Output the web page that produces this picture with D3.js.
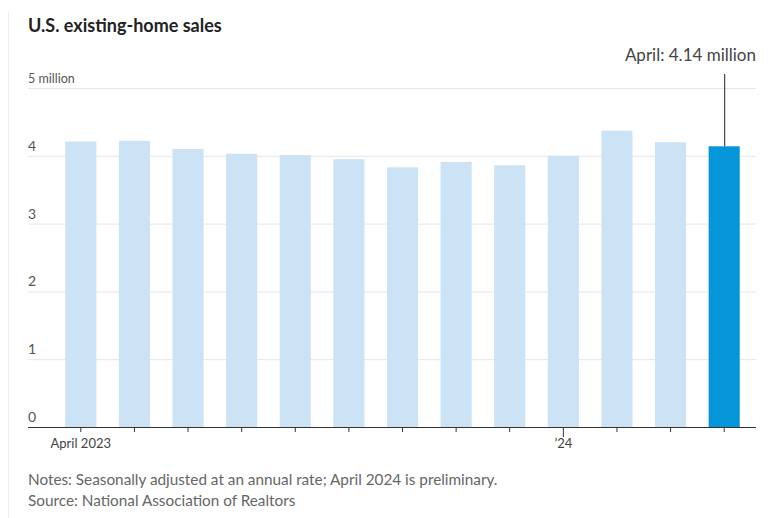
<!DOCTYPE html>
<html>
<head>
<meta charset="utf-8">
<title>U.S. existing-home sales</title>
<script src="https://cdn.jsdelivr.net/npm/d3@7"></script>
<style>
  body { margin: 0; background: #fff; font-family: Lato, "Noto Sans", sans-serif; }
  svg { display: block; }
</style>
</head>
<body>
<svg width="771" height="518"></svg>
<script>
// monthly sales, seasonally adjusted annual rate, millions
var months = ["2023-04", "2023-05", "2023-06", "2023-07", "2023-08", "2023-09",
              "2023-10", "2023-11", "2023-12", "2024-01", "2024-02", "2024-03", "2024-04"];
var sales = [4.21, 4.22, 4.10, 4.03, 4.01, 3.95, 3.83, 3.91, 3.86, 4.00, 4.37, 4.20, 4.14];
var yTicks = [0, 1, 2, 3, 4, 5];
var xLabels = {"2023-04": "April 2023", "2024-01": "\u201924"};

var svg = d3.select("svg");
var plotLeft = 28, plotRight = 756, plotTop = 88, plotBottom = 427;

var x = d3.scaleBand()
    .domain(months)
    .range([54, 751])
    .paddingInner(0.42)
    .paddingOuter(0.21);
var y = d3.scaleLinear().domain([0, 5]).range([plotBottom, plotTop]);

// faint frame line on the left
svg.append("line")
    .attr("x1", 8.5).attr("x2", 8.5).attr("y1", 12).attr("y2", 518)
    .attr("stroke", "#ececec");

svg.append("text")
    .attr("x", plotLeft).attr("y", 32)
    .attr("font-size", 18).attr("font-weight", 700).attr("fill", "#222")
    .text("U.S. existing-home sales");

// gridlines + labels
var grid = svg.append("g");
grid.selectAll("line")
    .data(yTicks.filter(function(d){ return d > 0; }))
  .enter().append("line")
    .attr("x1", plotLeft).attr("x2", plotRight)
    .attr("y1", function(d){ return y(d) + 0.5; })
    .attr("y2", function(d){ return y(d) + 0.5; })
    .attr("stroke", "#e6e6e6");
grid.selectAll("text")
    .data(yTicks)
  .enter().append("text")
    .attr("x", plotLeft)
    .attr("y", function(d){ return y(d) - 5; })
    .attr("font-size", function(d){ return d == 5 ? 12.5 : 14; })
    .attr("fill", "#555")
    .text(function(d){ return d == 5 ? "5 million" : d; });

// bars
svg.selectAll("rect")
    .data(months)
  .enter().append("rect")
    .attr("x", function(d){ return x(d); })
    .attr("width", x.bandwidth())
    .attr("y", function(d, i){ return y(sales[i]); })
    .attr("height", function(d, i){ return plotBottom - y(sales[i]); })
    .attr("fill", function(d, i){ return i == months.length - 1 ? "#0596da" : "#cce2f5"; });

// axis
svg.append("line")
    .attr("x1", plotLeft).attr("x2", plotRight)
    .attr("y1", plotBottom + 0.5).attr("y2", plotBottom + 0.5)
    .attr("stroke", "#333").attr("stroke-width", 1.2);
svg.selectAll(".tick")
    .data(months)
  .enter().append("line")
    .attr("class", "tick")
    .attr("x1", function(d){ return x(d) + x.bandwidth() / 2; })
    .attr("x2", function(d){ return x(d) + x.bandwidth() / 2; })
    .attr("y1", plotBottom)
    .attr("y2", function(d){ return d == "2024-01" ? plotBottom + 10 : plotBottom + 5; })
    .attr("stroke", "#333");
svg.selectAll(".xlab")
    .data(Object.keys(xLabels))
  .enter().append("text")
    .attr("class", "xlab")
    .attr("x", function(d){ return x(d) + x.bandwidth() / 2; })
    .attr("y", 448)
    .attr("text-anchor", "middle")
    .attr("font-size", 13).attr("fill", "#444")
    .text(function(d){ return xLabels[d]; });

// annotation for latest month
var last = months[months.length - 1];
var cx = x(last) + x.bandwidth() / 2;
svg.append("line")
    .attr("x1", cx + 0.5).attr("x2", cx + 0.5)
    .attr("y1", 74).attr("y2", y(sales[sales.length - 1]))
    .attr("stroke", "#222");
svg.append("text")
    .attr("x", plotRight).attr("y", 61)
    .attr("text-anchor", "end")
    .attr("font-size", 17).attr("fill", "#444")
    .text("April: " + sales[sales.length - 1] + " million");

svg.append("text")
    .attr("x", plotLeft).attr("y", 485)
    .attr("font-size", 15.3).attr("fill", "#666")
    .text("Notes: Seasonally adjusted at an annual rate; April 2024 is preliminary.");
svg.append("text")
    .attr("x", plotLeft).attr("y", 506)
    .attr("font-size", 15.3).attr("fill", "#666")
    .text("Source: National Association of Realtors");
</script>
</body>
</html>
